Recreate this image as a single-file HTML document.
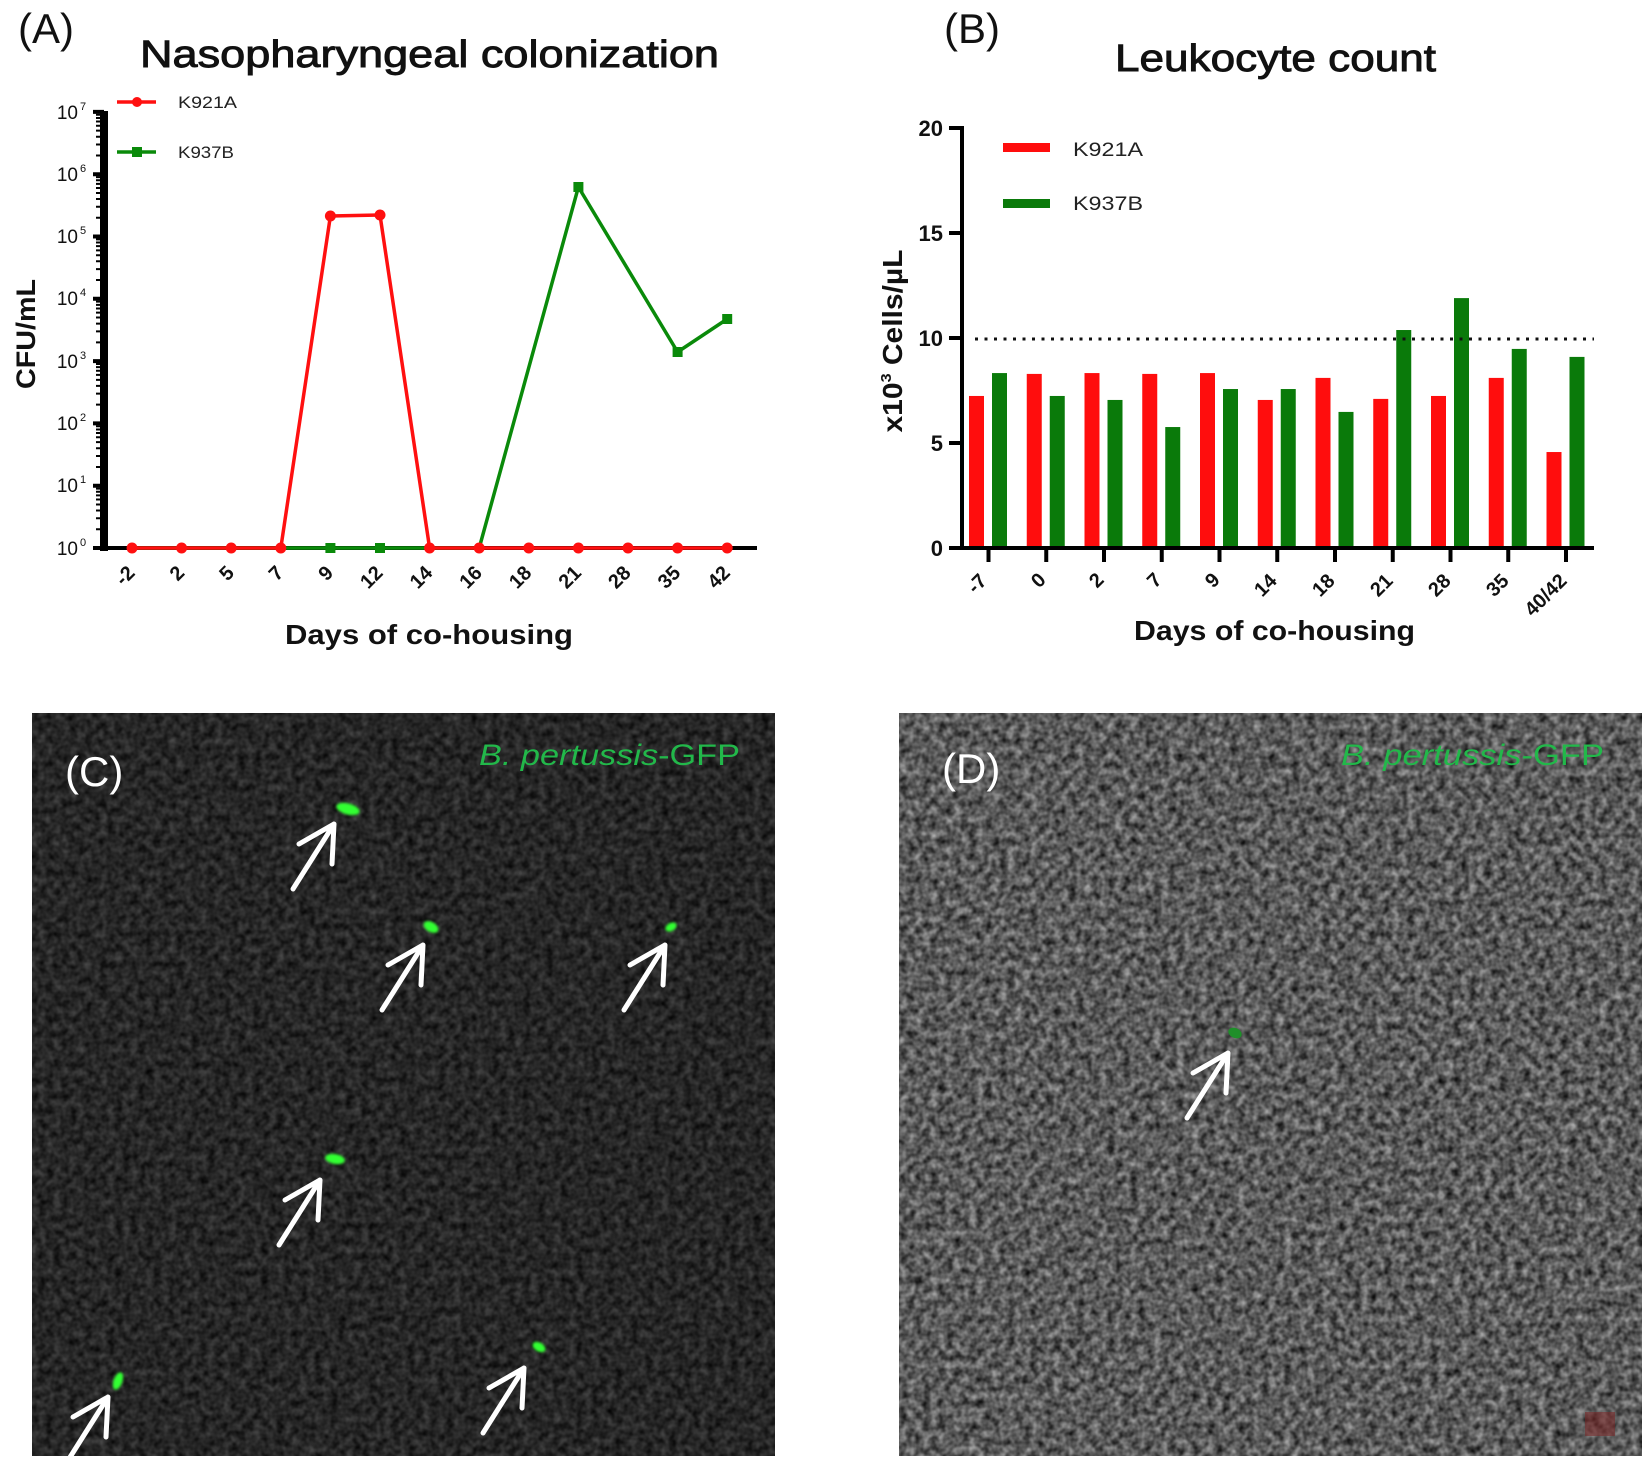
<!DOCTYPE html>
<html>
<head>
<meta charset="utf-8">
<style>
  html,body{margin:0;padding:0;background:#fff;}
  svg{display:block;}
  text{font-family:"Liberation Sans", Arial, sans-serif;}
</style>
</head>
<body>
<svg width="1650" height="1464" viewBox="0 0 1650 1464" xmlns="http://www.w3.org/2000/svg">
  <defs>
    <filter id="nC" x="0" y="0" width="1" height="1" color-interpolation-filters="sRGB">
      <feTurbulence type="fractalNoise" baseFrequency="0.13" numOctaves="2" seed="4" result="n"/>
      <feColorMatrix in="n" type="matrix" values="0.32 0 0 0 -0.01  0.32 0 0 0 -0.01  0.32 0 0 0 -0.01  0 0 0 0 1"/>
    </filter>
    <filter id="nD" x="0" y="0" width="1" height="1" color-interpolation-filters="sRGB">
      <feTurbulence type="fractalNoise" baseFrequency="0.13" numOctaves="2" seed="9" result="n"/>
      <feColorMatrix in="n" type="matrix" values="0.75 0 0 0 -0.02  0.75 0 0 0 -0.02  0.75 0 0 0 -0.02  0 0 0 0 1"/>
    </filter>
    <filter id="glow" x="-1" y="-1" width="3" height="3">
      <feGaussianBlur stdDeviation="1.2"/>
    </filter>
    <g id="minor">
      <path d="M96 529.25H101 M96 518.28H101 M96 510.5H101 M96 504.45H101 M96 499.52H101 M96 495.35H101 M96 491.74H101 M96 488.57H101" stroke="#000" stroke-width="2"/>
    </g>
  </defs>
  <rect width="1650" height="1464" fill="#fff"/>

  <!-- ================= PANEL A ================= -->
  <text x="18" y="43" font-size="42" fill="#111">(A)</text>
  <text x="140" y="67" font-size="38" fill="#111" stroke="#111" stroke-width="0.9" textLength="579" lengthAdjust="spacingAndGlyphs">Nasopharyngeal colonization</text>

  <!-- axes -->
  <rect x="100" y="111" width="8" height="440" fill="#000"/>
  <rect x="98" y="546" width="659" height="4" fill="#000"/>
  <path d="M93 548H104 M93 485.7H104 M93 423.4H104 M93 361.1H104 M93 298.8H104 M93 236.5H104 M93 174.2H104 M93 111.9H104" stroke="#000" stroke-width="4"/>
  <use href="#minor"/>
  <use href="#minor" transform="translate(0,-62.3)"/>
  <use href="#minor" transform="translate(0,-124.6)"/>
  <use href="#minor" transform="translate(0,-186.9)"/>
  <use href="#minor" transform="translate(0,-249.2)"/>
  <use href="#minor" transform="translate(0,-311.5)"/>
  <use href="#minor" transform="translate(0,-373.8)"/>

  <g font-size="19" fill="#111">
    <text x="78" y="119" text-anchor="end">10</text><text x="80" y="110" font-size="11">7</text>
    <text x="78" y="181" text-anchor="end">10</text><text x="80" y="172" font-size="11">6</text>
    <text x="78" y="243" text-anchor="end">10</text><text x="80" y="234" font-size="11">5</text>
    <text x="78" y="305" text-anchor="end">10</text><text x="80" y="296" font-size="11">4</text>
    <text x="78" y="368" text-anchor="end">10</text><text x="80" y="359" font-size="11">3</text>
    <text x="78" y="430" text-anchor="end">10</text><text x="80" y="421" font-size="11">2</text>
    <text x="78" y="492" text-anchor="end">10</text><text x="80" y="483" font-size="11">1</text>
    <text x="78" y="555" text-anchor="end">10</text><text x="80" y="546" font-size="11">0</text>
  </g>

  <text transform="translate(35,334) rotate(-90)" text-anchor="middle" font-size="27" font-weight="bold" fill="#111" textLength="110" lengthAdjust="spacingAndGlyphs">CFU/mL</text>

  <!-- series: green (K937B) -->
  <polyline points="132,548 181.6,548 231.2,548 280.8,548 330.4,548 380,548 429.6,548 479.2,548 578.4,187 677.6,352 727.2,319" fill="none" stroke="#0a8a0a" stroke-width="3.5" stroke-linejoin="round"/>
  <g fill="#0a8a0a">
    <rect x="325.4" y="543" width="10" height="10"/><rect x="375" y="543" width="10" height="10"/>
    <rect x="573.4" y="182" width="10" height="10"/><rect x="672.6" y="347" width="10" height="10"/>
    <rect x="722.2" y="314" width="10" height="10"/>
  </g>
  <!-- series: red (K921A) -->
  <polyline points="132,548 181.6,548 231.2,548 280.8,548 330.4,216 380,215 429.6,548 479.2,548 528.8,548 578.4,548 628,548 677.6,548 727.2,548" fill="none" stroke="#ff1010" stroke-width="3.5" stroke-linejoin="round"/>
  <g fill="#ff1010">
    <circle cx="132" cy="548" r="5.5"/><circle cx="181.6" cy="548" r="5.5"/><circle cx="231.2" cy="548" r="5.5"/>
    <circle cx="280.8" cy="548" r="5.5"/><circle cx="330.4" cy="216" r="5.5"/><circle cx="380" cy="215" r="5.5"/>
    <circle cx="429.6" cy="548" r="5.5"/><circle cx="479.2" cy="548" r="5.5"/><circle cx="528.8" cy="548" r="5.5"/>
    <circle cx="578.4" cy="548" r="5.5"/><circle cx="628" cy="548" r="5.5"/><circle cx="677.6" cy="548" r="5.5"/>
    <circle cx="727.2" cy="548" r="5.5"/>
  </g>

  <!-- legend A -->
  <line x1="117" y1="102" x2="156" y2="102" stroke="#ff1010" stroke-width="3.5"/>
  <circle cx="137" cy="102" r="5" fill="#ff1010"/>
  <text x="178" y="108" font-size="17" fill="#222" textLength="59" lengthAdjust="spacingAndGlyphs">K921A</text>
  <line x1="117" y1="152" x2="156" y2="152" stroke="#0a8a0a" stroke-width="3.5"/>
  <rect x="132" y="147" width="10" height="10" fill="#0a8a0a"/>
  <text x="178" y="158" font-size="17" fill="#222" textLength="56" lengthAdjust="spacingAndGlyphs">K937B</text>

  <g font-size="20" font-weight="bold" fill="#111" text-anchor="end">
    <text transform="translate(136,574) rotate(-45)">-2</text>
    <text transform="translate(185.6,574) rotate(-45)">2</text>
    <text transform="translate(235.2,574) rotate(-45)">5</text>
    <text transform="translate(284.8,574) rotate(-45)">7</text>
    <text transform="translate(334.4,574) rotate(-45)">9</text>
    <text transform="translate(384,574) rotate(-45)">12</text>
    <text transform="translate(433.6,574) rotate(-45)">14</text>
    <text transform="translate(483.2,574) rotate(-45)">16</text>
    <text transform="translate(532.8,574) rotate(-45)">18</text>
    <text transform="translate(582.4,574) rotate(-45)">21</text>
    <text transform="translate(632,574) rotate(-45)">28</text>
    <text transform="translate(681.6,574) rotate(-45)">35</text>
    <text transform="translate(731.2,574) rotate(-45)">42</text>
  </g>
  <text x="285" y="644" font-size="28" font-weight="bold" fill="#111" textLength="288" lengthAdjust="spacingAndGlyphs">Days of co-housing</text>

  <!-- ================= PANEL B ================= -->
  <text x="944" y="43" font-size="42" fill="#111">(B)</text>
  <text x="1115" y="71" font-size="38" fill="#111" stroke="#111" stroke-width="0.9" textLength="321" lengthAdjust="spacingAndGlyphs">Leukocyte count</text>

  <g fill="#ff0d0d">
    <rect x="969" y="395.96" width="15" height="152.04"/>
    <rect x="1026.75" y="373.91" width="15" height="174.09"/>
    <rect x="1084.5" y="373.07" width="15" height="174.93"/>
    <rect x="1142.25" y="373.91" width="15" height="174.09"/>
    <rect x="1200" y="373.07" width="15" height="174.93"/>
    <rect x="1257.75" y="399.95" width="15" height="148.05"/>
    <rect x="1315.5" y="377.9" width="15" height="170.1"/>
    <rect x="1373.25" y="398.9" width="15" height="149.1"/>
    <rect x="1431" y="395.96" width="15" height="152.04"/>
    <rect x="1488.75" y="377.9" width="15" height="170.1"/>
    <rect x="1546.5" y="452.03" width="15" height="95.97"/>
  </g>
  <g fill="#0a7a0a">
    <rect x="992" y="373.07" width="15" height="174.93"/>
    <rect x="1049.75" y="395.96" width="15" height="152.04"/>
    <rect x="1107.5" y="399.95" width="15" height="148.05"/>
    <rect x="1165.25" y="427.04" width="15" height="120.96"/>
    <rect x="1223" y="389.03" width="15" height="158.97"/>
    <rect x="1280.75" y="389.03" width="15" height="158.97"/>
    <rect x="1338.5" y="411.92" width="15" height="136.08"/>
    <rect x="1396.25" y="330.02" width="15" height="217.98"/>
    <rect x="1454" y="298.1" width="15" height="249.9"/>
    <rect x="1511.75" y="348.92" width="15" height="199.08"/>
    <rect x="1569.5" y="356.9" width="15" height="191.1"/>
  </g>

  <line x1="975" y1="339" x2="1594" y2="339" stroke="#111" stroke-width="3" stroke-dasharray="3,6.5"/>

  <rect x="960" y="126" width="4" height="424" fill="#000"/>
  <rect x="960" y="546" width="634" height="4" fill="#000"/>
  <path d="M949 128H962 M949 233H962 M949 338H962 M949 443H962 M949 548H962" stroke="#000" stroke-width="4"/>
  <path d="M988.5 548V562 M1046.25 548V562 M1104 548V562 M1161.75 548V562 M1219.5 548V562 M1277.25 548V562 M1335 548V562 M1392.75 548V562 M1450.5 548V562 M1508.25 548V562 M1566 548V562" stroke="#000" stroke-width="4"/>

  <g font-size="22" font-weight="bold" fill="#111" text-anchor="end">
    <text x="943" y="136">20</text>
    <text x="943" y="241">15</text>
    <text x="943" y="346">10</text>
    <text x="943" y="451">5</text>
    <text x="943" y="556">0</text>
  </g>

  <text transform="translate(902,341) rotate(-90)" text-anchor="middle" font-size="28" font-weight="bold" fill="#111" textLength="183" lengthAdjust="spacingAndGlyphs">x10<tspan font-size="15" dy="-11">3</tspan><tspan dy="11"> Cells/µL</tspan></text>

  <rect x="1003" y="143" width="47" height="9" fill="#ff0d0d"/>
  <text x="1073" y="156" font-size="19" fill="#222" textLength="70" lengthAdjust="spacingAndGlyphs">K921A</text>
  <rect x="1003" y="199" width="47" height="9" fill="#0a7a0a"/>
  <text x="1073" y="210" font-size="19" fill="#222" textLength="70" lengthAdjust="spacingAndGlyphs">K937B</text>

  <g font-size="20" font-weight="bold" fill="#111" text-anchor="end">
    <text transform="translate(988,582) rotate(-45)">-7</text>
    <text transform="translate(1047,581) rotate(-45)">0</text>
    <text transform="translate(1105,581) rotate(-45)">2</text>
    <text transform="translate(1163,581) rotate(-45)">7</text>
    <text transform="translate(1221,581) rotate(-45)">9</text>
    <text transform="translate(1278,582) rotate(-45)">14</text>
    <text transform="translate(1336,582) rotate(-45)">18</text>
    <text transform="translate(1394,582) rotate(-45)">21</text>
    <text transform="translate(1452,582) rotate(-45)">28</text>
    <text transform="translate(1510,582) rotate(-45)">35</text>
    <text transform="translate(1568,582) rotate(-45)">40/42</text>
  </g>
  <text x="1134" y="640" font-size="28" font-weight="bold" fill="#111" textLength="281" lengthAdjust="spacingAndGlyphs">Days of co-housing</text>

  <!-- ================= PANEL C ================= -->
  <rect x="32" y="713" width="743" height="743" fill="#262626"/>
  <rect x="32" y="713" width="743" height="743" filter="url(#nC)"/>
  <text x="65" y="786" font-size="42" fill="#fff">(C)</text>
  <text x="479" y="765" font-size="30" fill="#22b84a" textLength="261" lengthAdjust="spacingAndGlyphs"><tspan font-style="italic">B. pertussis</tspan>-GFP</text>

  <g fill="#33ff33">
    <ellipse cx="348" cy="809" rx="12" ry="5.5" transform="rotate(15 348 809)" filter="url(#glow)"/>
    <ellipse cx="431" cy="927" rx="8" ry="5" transform="rotate(30 431 927)" filter="url(#glow)"/>
    <ellipse cx="671" cy="927" rx="6" ry="4" transform="rotate(-30 671 927)" filter="url(#glow)"/>
    <ellipse cx="335" cy="1159" rx="10" ry="5" transform="rotate(10 335 1159)" filter="url(#glow)"/>
    <ellipse cx="539" cy="1347" rx="7" ry="4.5" transform="rotate(30 539 1347)" filter="url(#glow)"/>
    <ellipse cx="118" cy="1381" rx="4.5" ry="9" transform="rotate(20 118 1381)" filter="url(#glow)"/>
  </g>
  <g fill="none" stroke="#fff" stroke-width="5" stroke-linecap="round" stroke-linejoin="round">
    <path d="M293 889 L334 824 M299 844 L334 824 L332 864"/>
    <path d="M382 1010 L423 945 M388 965 L423 945 L421 985"/>
    <path d="M624 1010 L665 945 M630 965 L665 945 L663 985"/>
    <path d="M279 1245 L320 1180 M285 1200 L320 1180 L318 1220"/>
    <path d="M483 1433 L524 1368 M489 1388 L524 1368 L522 1408"/>
    <path d="M67 1462 L108 1397 M73 1417 L108 1397 L106 1437"/>
  </g>
  <rect x="0" y="1456" width="800" height="8" fill="#fff"/>

  <!-- ================= PANEL D ================= -->
  <rect x="899" y="713" width="743" height="743" fill="#5a5a5a"/>
  <rect x="899" y="713" width="743" height="743" filter="url(#nD)"/>
  <text x="942" y="783" font-size="42" fill="#fff">(D)</text>
  <text x="1341" y="765" font-size="30" fill="#22b84a" textLength="263" lengthAdjust="spacingAndGlyphs"><tspan font-style="italic">B. pertussis</tspan>-GFP</text>
  <ellipse cx="1235" cy="1033" rx="7" ry="5" fill="#1f8f2a" transform="rotate(25 1235 1033)"/>
  <g fill="none" stroke="#fff" stroke-width="5" stroke-linecap="round" stroke-linejoin="round">
    <path d="M1187 1118 L1228 1053 M1193 1073 L1228 1053 L1226 1093"/>
  </g>
  <rect x="1585" y="1412" width="30" height="24" fill="#7a2a2a" opacity="0.6"/>
</svg>
</body>
</html>
